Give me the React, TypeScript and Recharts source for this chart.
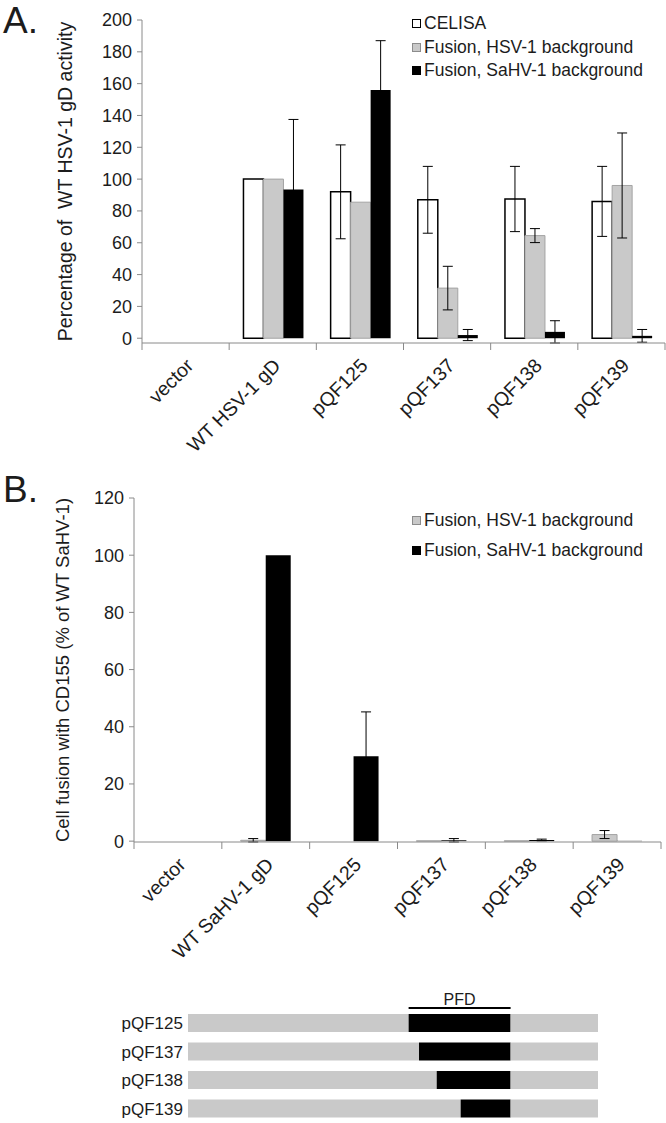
import { BarChart, Bar, XAxis, YAxis, ErrorBar, Legend } from 'recharts';

const FONT = '"Liberation Sans", Arial, sans-serif';
const INK = '#1c1c1c';
const AXIS = '#8a8a8a';
const GREY = '#c9c9c9';
const GREY_EDGE = '#a3a3a3';

// Panel A: % of WT HSV-1 gD activity
const constructsA = ['vector', 'WT HSV-1 gD', 'pQF125', 'pQF137', 'pQF138', 'pQF139'];
const celisaA = [0, 100, 92, 87, 87.5, 86];
const celisaErrA = [null, null, 29.5, 21, 20.5, 22];
const hsvFusionA = [0, 100, 85.5, 31.5, 64.5, 96];
const hsvFusionErrA = [null, null, null, 13.7, 4.4, 33];
const sahvFusionA = [0, 93.5, 156, 2, 4, 1.5];
const sahvFusionErrA = [null, 44, 31, 3.5, 7, 4];
const ticksA = [0, 20, 40, 60, 80, 100, 120, 140, 160, 180, 200];

// Panel B: cell fusion with CD155 (% of WT SaHV-1)
const constructsB = ['vector', 'WT SaHV-1 gD', 'pQF125', 'pQF137', 'pQF138', 'pQF139'];
const hsvFusionB = [0, 0.3, 0, 0.1, 0.1, 2.3];
const hsvFusionErrB = [null, 0.6, null, null, null, 1.4];
const sahvFusionB = [0, 100, 29.7, 0.3, 0.4, 0.1];
const sahvFusionErrB = [null, null, 15.5, 0.6, 0.3, null];
const ticksB = [0, 20, 40, 60, 80, 100, 120];

// Chimera map: PFD segment position along gD
const chimeras = ['pQF125', 'pQF137', 'pQF138', 'pQF139'];
const pfdStart = [212, 222, 239, 262];
const pfdEnd = 310;
const gdLength = 394;

const dataA = constructsA.map((name, i) => ({
  name,
  celisa: celisaA[i], celisaErr: celisaErrA[i],
  hsv: hsvFusionA[i], hsvErr: hsvFusionErrA[i],
  sahv: sahvFusionA[i], sahvErr: sahvFusionErrA[i],
}));

const dataB = constructsB.map((name, i) => ({
  name,
  hsv: hsvFusionB[i], hsvErr: hsvFusionErrB[i],
  sahv: sahvFusionB[i], sahvErr: sahvFusionErrB[i],
}));

const dataC = chimeras.map((name, i) => ({
  name,
  lead: pfdStart[i],
  pfd: pfdEnd - pfdStart[i],
  tail: gdLength - pfdEnd,
}));

const TICK_LEN = 7;

// category label slanted at 45deg, plus tick marks on the category edges
function SlantTick(props: any) {
  const { x, y, payload, index, visibleTicksCount } = props;
  const half = payload.offset ?? 0;
  const axisY = y - TICK_LEN;
  return (
    <g>
      <line x1={x - half} x2={x - half} y1={axisY} y2={axisY + TICK_LEN} stroke={AXIS} />
      {index === visibleTicksCount - 1 && (
        <line x1={x + half} x2={x + half} y1={axisY} y2={axisY + TICK_LEN} stroke={AXIS} />
      )}
      <text
        transform={`translate(${x - 1},${y + 7}) rotate(-45)`}
        textAnchor="end"
        dy="0.72em"
        fontSize={19.5}
        fontFamily={FONT}
        fill={INK}
      >
        {payload.value}
      </text>
    </g>
  );
}

function yTitle(text: string, x: number, size: number) {
  return (props: any) => {
    const vb = props.viewBox || {};
    const cy = (vb.y ?? 0) + (vb.height ?? 0) / 2;
    return (
      <text
        x={x}
        y={cy}
        transform={`rotate(-90 ${x} ${cy})`}
        textAnchor="middle"
        dominantBaseline="central"
        fontSize={size}
        fontFamily={FONT}
        fill={INK}
        style={{ whiteSpace: 'pre' }}
      >
        {text}
      </text>
    );
  };
}

type KeyItem = { label: string; fill: string; edge: string };

function Key({ items, rowH }: { items: KeyItem[]; rowH: number }) {
  return (
    <div style={{ fontFamily: FONT, fontSize: 17.5, color: INK }}>
      {items.map((it) => (
        <div key={it.label} style={{ display: 'flex', alignItems: 'center', height: rowH, whiteSpace: 'nowrap' }}>
          <span
            style={{
              display: 'inline-block', width: 7, height: 7, marginRight: 3,
              background: it.fill, border: `1px solid ${it.edge}`,
            }}
          />
          {it.label}
        </div>
      ))}
    </div>
  );
}

const keyA: KeyItem[] = [
  { label: 'CELISA', fill: '#fff', edge: '#000' },
  { label: 'Fusion, HSV-1 background', fill: GREY, edge: '#8c8c8c' },
  { label: 'Fusion, SaHV-1 background', fill: '#000', edge: '#000' },
];
const keyB: KeyItem[] = keyA.slice(1);

const tickStyle = { fontSize: 18, fontFamily: FONT, fill: INK };

function PfdShape(props: any) {
  const { x, y, width, height, fill, index } = props;
  return (
    <g>
      <rect x={x} y={y} width={width} height={height} fill={fill} />
      {index === 0 && (
        <g>
          <line x1={x} x2={x + width} y1={y - 6} y2={y - 6} stroke="#000" strokeWidth={2} />
          <text x={x + width / 2} y={y - 9} textAnchor="middle" fontSize={16} fontFamily={FONT} fill={INK}>
            PFD
          </text>
        </g>
      )}
    </g>
  );
}

const panelLetter = (top: number): React.CSSProperties => ({
  position: 'absolute', left: 3, top, fontFamily: FONT, fontSize: 37, color: INK, lineHeight: 'normal',
});

export default function App() {
  return (
    <div style={{ position: 'absolute', left: 0, top: 0, width: 666, height: 1123, overflow: 'hidden', background: '#fff' }}>
      <div style={panelLetter(0)}>A.</div>
      <div style={panelLetter(469)}>B.</div>

      <div style={{ position: 'absolute', left: 0, top: 0 }}>
        <BarChart width={666} height={470} data={dataA} margin={{ top: 20, right: 1, bottom: 0, left: 0 }}
          barCategoryGap="16.4%" barGap={0}>
          <XAxis dataKey="name" interval={0} height={127} tickLine={false} tickSize={TICK_LEN} tickMargin={0}
            axisLine={{ stroke: AXIS }} tick={(p: any) => <SlantTick {...p} />} />
          <YAxis width={142} domain={[0, 200]} ticks={ticksA} interval={0} tickSize={5} tickMargin={5}
            axisLine={{ stroke: AXIS }} tickLine={{ stroke: AXIS }} tick={tickStyle}
            label={{ content: yTitle('Percentage of  WT HSV-1 gD activity', 65, 19.5) }} />
          <Legend layout="vertical" align="center" verticalAlign="middle"
            wrapperStyle={{ top: 12, left: 412, width: 250 }}
            content={() => <Key items={keyA} rowH={23.5} />} />
          <Bar dataKey="celisa" name="CELISA" fill="#fff" stroke="#000" strokeWidth={1.5} isAnimationActive={false}>
            <ErrorBar dataKey="celisaErr" width={5} stroke="#000" strokeWidth={1} isAnimationActive={false} />
          </Bar>
          <Bar dataKey="hsv" name="Fusion, HSV-1 background" fill={GREY} stroke={GREY_EDGE} strokeWidth={1} isAnimationActive={false}>
            <ErrorBar dataKey="hsvErr" width={5} stroke="#000" strokeWidth={1} isAnimationActive={false} />
          </Bar>
          <Bar dataKey="sahv" name="Fusion, SaHV-1 background" fill="#000" isAnimationActive={false}>
            <ErrorBar dataKey="sahvErr" width={5} stroke="#000" strokeWidth={1} isAnimationActive={false} />
          </Bar>
        </BarChart>
      </div>

      <div style={{ position: 'absolute', left: 0, top: 470 }}>
        <BarChart width={666} height={510} data={dataB} margin={{ top: 28, right: 5, bottom: 0, left: 0 }}
          barCategoryGap="21.5%" barGap={0}>
          <XAxis dataKey="name" interval={0} height={138} tickLine={false} tickSize={TICK_LEN} tickMargin={0}
            axisLine={{ stroke: AXIS }} tick={(p: any) => <SlantTick {...p} />} />
          <YAxis width={134} domain={[0, 120]} ticks={ticksB} interval={0} tickSize={5} tickMargin={5}
            axisLine={{ stroke: AXIS }} tickLine={{ stroke: AXIS }} tick={tickStyle}
            label={{ content: yTitle('Cell fusion with CD155 (% of WT SaHV-1)', 62, 18.5) }} />
          <Legend layout="vertical" align="center" verticalAlign="middle"
            wrapperStyle={{ top: 35, left: 412, width: 250 }}
            content={() => <Key items={keyB} rowH={30} />} />
          <Bar dataKey="hsv" name="Fusion, HSV-1 background" fill={GREY} stroke={GREY_EDGE} strokeWidth={1} isAnimationActive={false}>
            <ErrorBar dataKey="hsvErr" width={5} stroke="#000" strokeWidth={1} isAnimationActive={false} />
          </Bar>
          <Bar dataKey="sahv" name="Fusion, SaHV-1 background" fill="#000" isAnimationActive={false}>
            <ErrorBar dataKey="sahvErr" width={5} stroke="#000" strokeWidth={1} isAnimationActive={false} />
          </Bar>
        </BarChart>
      </div>

      <div style={{ position: 'absolute', left: 0, top: 985 }}>
        <BarChart width={666} height={138} data={dataC} layout="vertical"
          margin={{ top: 24, right: 68, bottom: 0, left: 0 }}>
          <XAxis type="number" domain={[0, gdLength]} hide />
          <YAxis type="category" dataKey="name" width={188} axisLine={false} tickLine={false}
            tickSize={0} tickMargin={5} tick={{ fontSize: 17, fontFamily: FONT, fill: INK }} />
          <Bar dataKey="lead" stackId="gd" fill={GREY} barSize={18} isAnimationActive={false} />
          <Bar dataKey="pfd" stackId="gd" fill="#000" barSize={18} shape={(p: any) => <PfdShape {...p} />} isAnimationActive={false} />
          <Bar dataKey="tail" stackId="gd" fill={GREY} barSize={18} isAnimationActive={false} />
        </BarChart>
      </div>
    </div>
  );
}
